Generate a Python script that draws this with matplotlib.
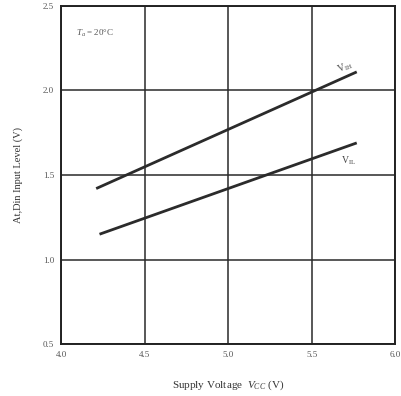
import matplotlib
matplotlib.use("Agg")
import matplotlib.pyplot as plt

# Supply voltage (V) and input threshold levels (V)
vcc_vih = [4.21, 5.77]
vih = [1.42, 2.11]
vcc_vil = [4.23, 5.77]
vil = [1.15, 1.69]

x_ticks = [4.0, 4.5, 5.0, 5.5, 6.0]
x_labels = ["4.0", "4.5", "5.0", "5.5", "6.0"]
y_ticks = [0.5, 1.0, 1.5, 2.0, 2.5]
y_labels = ["0.5", "1.0", "1.5", "2.0", "2.5"]

plt.rcParams["font.family"] = ["Liberation Serif", "DejaVu Serif"]
plt.rcParams["mathtext.fontset"] = "custom"
plt.rcParams["mathtext.rm"] = "Liberation Serif"
plt.rcParams["mathtext.it"] = "Liberation Serif:italic"

fig = plt.figure(figsize=(4.02, 3.96), dpi=100)
ax = fig.add_axes([0.152, 0.131, 0.831, 0.854])

ax.set_xlim(4.0, 6.0)
ax.set_ylim(0.5, 2.5)
ax.set_xticks(x_ticks)
ax.set_xticklabels(x_labels)
ax.set_yticks(y_ticks)
ax.set_yticklabels(y_labels)
ax.tick_params(length=0, labelsize=6.5, colors="#555555", pad=5)

ax.grid(True, color="#2a2a2a", linewidth=1.1)
ax.set_axisbelow(True)
for s in ax.spines.values():
    s.set_color("#222222")
    s.set_linewidth(1.4)

ax.plot(vcc_vih, vih, color="#2b2b2b", linewidth=2.0, solid_capstyle="butt")
ax.plot(vcc_vil, vil, color="#2b2b2b", linewidth=2.0, solid_capstyle="butt")

ax.text(5.70, 2.135, "V$_{\\mathrm{IH}}$", fontsize=7, color="#444444", rotation=22,
        ha="center", va="center")
ax.text(5.72, 1.585, "V$_{\\mathrm{IL}}$", fontsize=7, color="#444444",
        ha="center", va="center")
ax.text(4.09, 2.34, "$T_a$ = 20°C", fontsize=6.5, color="#555555",
        ha="left", va="center")

ax.set_xlabel("Supply Voltage  $V_{CC}$ (V)", fontsize=8, color="#333333", labelpad=14)
ax.set_ylabel("At,Din Input Level (V)", fontsize=7.5, color="#333333", labelpad=14)

fig.savefig("out.png", dpi=100, facecolor="white")
